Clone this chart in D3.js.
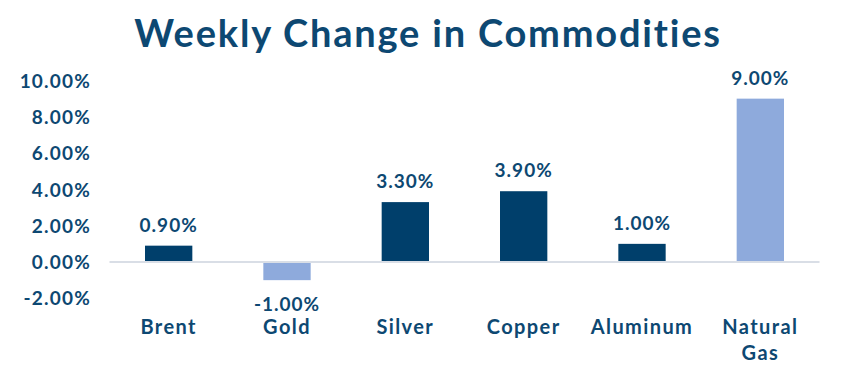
<!DOCTYPE html>
<html><head><meta charset="utf-8">
<script src="https://cdn.jsdelivr.net/npm/d3@7"></script>
<style>body{margin:0;background:#fff}svg{display:block}</style>
</head><body>
<svg id="c" width="846" height="383"></svg>
<script>
const categories = ["Brent","Gold","Silver","Copper","Aluminum","Natural Gas"];
const values = [0.90,-1.00,3.30,3.90,1.00,9.00];
const barColors = ["#003F6B","#8EAADC","#003F6B","#003F6B","#003F6B","#8EAADC"];
const yTicks = [-2,0,2,4,6,8,10];
const title = "Weekly Change in Commodities";

const font = "Lato, 'Noto Sans', sans-serif";
const textColor = "#0D4872";
const svg = d3.select("#c");
const x = d3.scaleBand().domain(categories).range([109.5,819.5]).paddingInner(0.6).paddingOuter(0.3);
const y = d3.scaleLinear().domain([-2,10]).range([298.3,80.5]);

svg.append("text").attr("x",428).attr("y",47).attr("text-anchor","middle")
  .attr("font-family",font).attr("font-weight",700).attr("font-size",38)
  .attr("letter-spacing",1.8).attr("fill",textColor).text(title);

const fmt = v => v.toFixed(2)+"%";
const yAxis = svg.append("g").attr("transform","translate(91,0)")
  .call(d3.axisLeft(y).tickValues(yTicks).tickFormat(fmt).tickSize(0).tickPadding(0));
yAxis.select(".domain").remove();
yAxis.selectAll("text").attr("font-family",font).attr("font-weight",700).attr("font-size",19)
  .attr("letter-spacing",1.2).attr("fill",textColor).attr("dy","0.35em");

svg.selectAll("rect.bar").data(values).join("rect").attr("class","bar")
  .attr("x",(d,i)=>x(categories[i])).attr("width",x.bandwidth())
  .attr("y",d=>y(Math.max(0,d))).attr("height",d=>Math.abs(y(d)-y(0)))
  .attr("fill",(d,i)=>barColors[i]);

svg.append("line").attr("x1",x.range()[0]).attr("x2",x.range()[1])
  .attr("y1",y(0)).attr("y2",y(0)).attr("stroke","#D9DEE6").attr("stroke-width",2);

svg.selectAll("text.val").data(values).join("text").attr("class","val")
  .attr("x",(d,i)=>x(categories[i])+x.bandwidth()/2)
  .attr("y",d=>d>=0 ? y(d)-14 : y(d)+31)
  .attr("text-anchor","middle").attr("font-family",font).attr("font-weight",700)
  .attr("font-size",19).attr("letter-spacing",1).attr("fill",textColor).text(fmt);

const xl = svg.selectAll("text.cat").data(categories).join("text").attr("class","cat")
  .attr("x",d=>x(d)+x.bandwidth()/2).attr("y",334)
  .attr("text-anchor","middle").attr("font-family",font).attr("font-weight",700)
  .attr("font-size",20).attr("letter-spacing",1.4).attr("fill",textColor);
xl.each(function(d){
  const parts = d==="Natural Gas" ? ["Natural","Gas"] : [d];
  const t = d3.select(this);
  parts.forEach((p,j)=>t.append("tspan").attr("x",x(d)+x.bandwidth()/2).attr("dy",j?26:0).text(p));
});
</script>
</body></html>
